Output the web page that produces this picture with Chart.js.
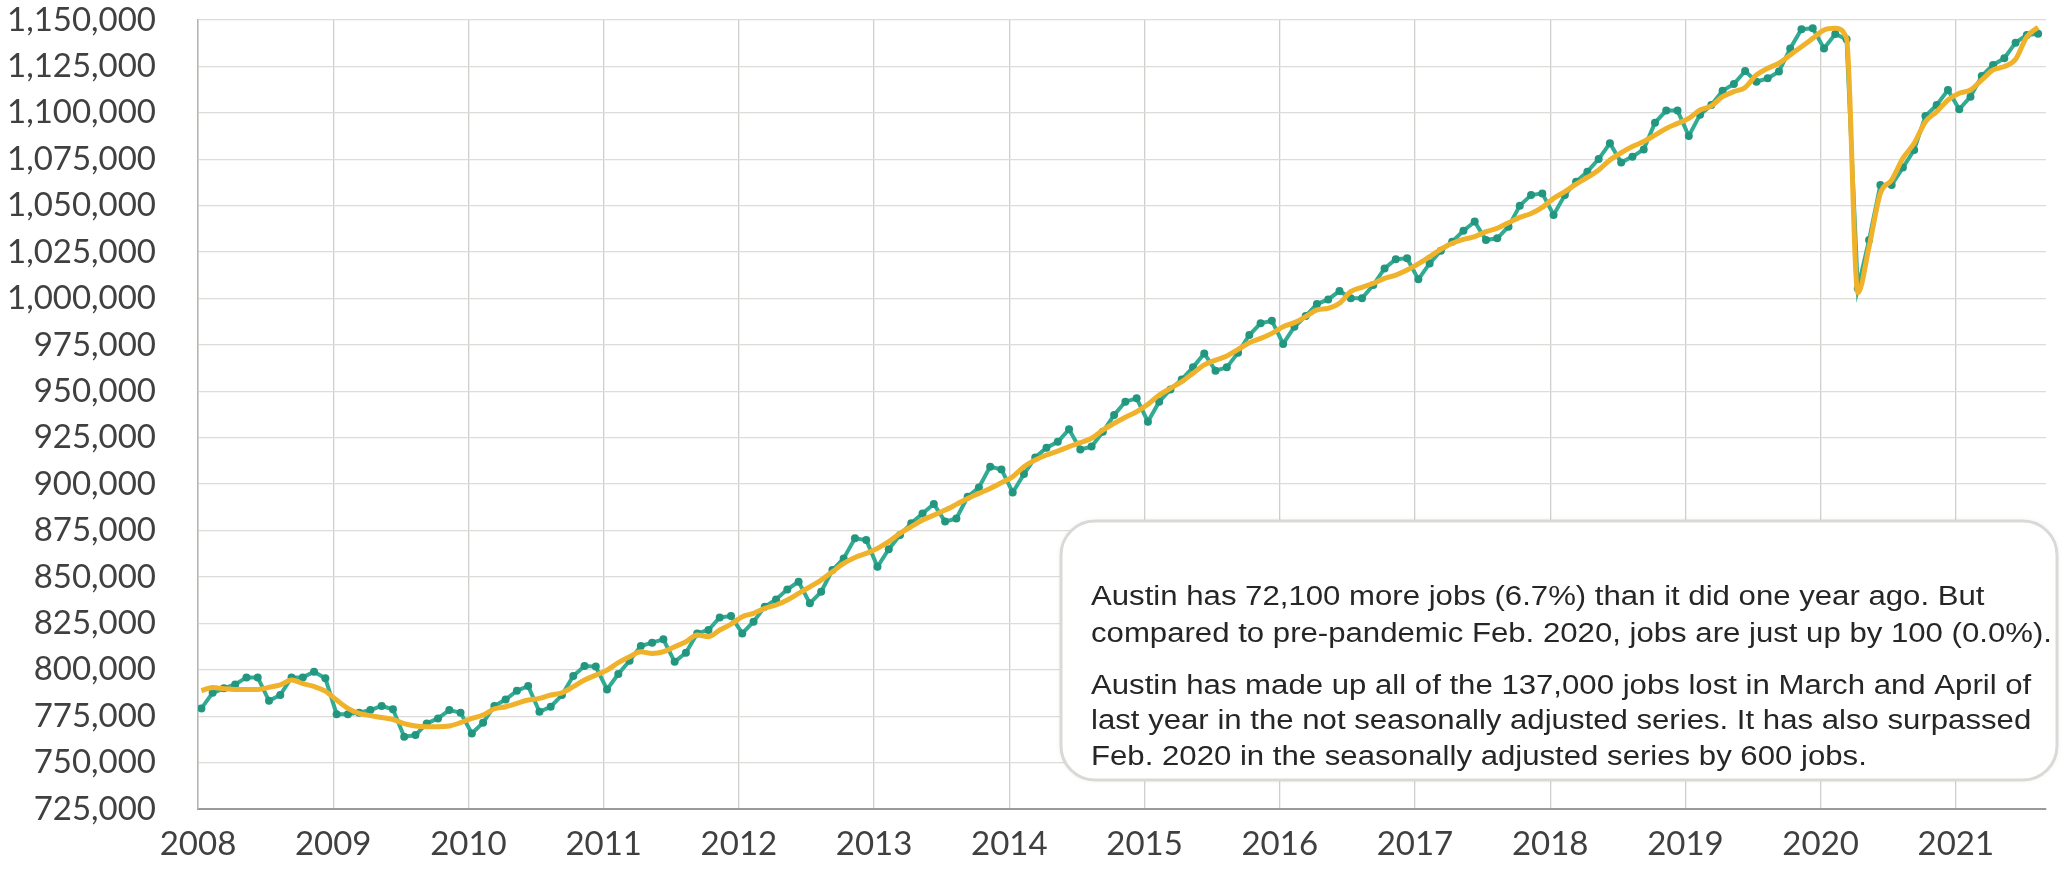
<!DOCTYPE html>
<html>
<head>
<meta charset="utf-8">
<script src="https://cdn.jsdelivr.net/npm/chart.js@4"></script>
<style>
  html, body { margin: 0; padding: 0; background: #ffffff; }
  #wrap { width: 2067px; height: 872px; }
</style>
</head>
<body>
<div id="wrap"><canvas id="jobsChart" width="2067" height="872"></canvas></div>
<script>
// Austin total nonfarm jobs, Jan 2008 - Aug 2021 (monthly)

var years = ['2008', '2009', '2010', '2011', '2012', '2013', '2014',
             '2015', '2016', '2017', '2018', '2019', '2020', '2021'];

// not seasonally adjusted (teal, with markers)
var jobsNSA = [
  779200, 787600, 790000, 792100, 795900, 795900, 783300, 786400, 795900, 795900, 798900, 795400,
  776100, 776100, 776900, 778300, 780500, 778700, 763900, 764800, 771100, 773800, 778300, 776900,
  765700, 771500, 780500, 784000, 788700, 791200, 777400, 780100, 786400, 796600, 802000, 801700,
  789400, 797700, 804900, 812800, 814600, 816400, 804300, 809200, 819600, 821400, 828200, 828900,
  819600, 825900, 834000, 837900, 843300, 847400, 835800, 842000, 853700, 860000, 870800, 869900,
  855500, 864900, 872600, 878900, 884200, 889300, 879800, 881500, 893200, 898200, 909400, 907900,
  895500, 905400, 914400, 919600, 922800, 929500, 918700, 920200, 928200, 937200, 944400, 946200,
  933600, 944400, 951000, 956400, 962900, 970400, 961100, 962900, 970800, 980300, 986600, 988000,
  975500, 984800, 990500, 997000, 999500, 1004000, 1000100, 1000100, 1007200, 1016200, 1021100, 1021600,
  1010300, 1018900, 1025700, 1030600, 1036500, 1041400, 1031500, 1032400, 1038700, 1050000, 1055700, 1056600,
  1045000, 1055700, 1062900, 1068300, 1075100, 1083600, 1073200, 1076400, 1080300, 1094700, 1101200, 1101200,
  1087500, 1099000, 1104200, 1111900, 1115500, 1122500, 1116800, 1118600, 1122200, 1134700, 1145000, 1145500,
  1134700, 1142500, 1139600, 1005400, 1031500, 1061100, 1061100, 1070500, 1080000, 1098300, 1104200, 1112300,
  1101900, 1108700, 1119800, 1125800, 1129400, 1137800, 1141900, 1142600
];

// seasonally adjusted (gold, smooth)
var jobsSA = [
  788700, 790500, 789800, 789400, 789400, 789400, 790500, 791800, 794500, 792500, 791000, 788500,
  783700, 779200, 776500, 775300, 774300, 773200, 771000, 769700, 769300, 769300, 769700, 771500,
  773800, 775600, 779000, 780100, 781900, 783700, 784600, 786400, 787600, 790900, 794500, 797100,
  799800, 803800, 807000, 809700, 808800, 809700, 812400, 815100, 818700, 817800, 821400, 824600,
  828600, 830400, 833100, 834900, 837600, 841100, 844700, 848300, 852800, 857300, 860500, 862700,
  865400, 869000, 873500, 877100, 880700, 883300, 886000, 889100, 892300, 895000, 897700, 900800,
  904000, 909400, 913000, 915700, 917800, 920200, 922300, 924700, 929100, 932700, 936000, 939000,
  943000, 948000, 951600, 955200, 959700, 964200, 966800, 969000, 972600, 976200, 978500, 981200,
  984800, 987000, 990200, 993800, 994700, 997400, 1003700, 1006000, 1008100, 1010800, 1012600, 1015300,
  1018600, 1022500, 1026500, 1029700, 1031800, 1033300, 1036000, 1037800, 1040800, 1043700, 1045800, 1049100,
  1053900, 1057500, 1061600, 1065200, 1069200, 1074600, 1078500, 1081800, 1084500, 1088000, 1091600, 1094300,
  1097000, 1101500, 1103700, 1108700, 1111400, 1113700, 1120400, 1124000, 1126700, 1131200, 1135600, 1140100,
  1144600, 1145500, 1140100, 1003100, 1027900, 1056600, 1063800, 1075500, 1083600, 1095200, 1100600, 1106900,
  1110500, 1112300, 1117700, 1123100, 1124900, 1128800, 1141000, 1146100
];

var yMin = 725000, yMax = 1150000, yStep = 25000;

var noteLines = [
  'Austin has 72,100 more jobs (6.7%) than it did one year ago. But',
  'compared to pre-pandemic Feb. 2020, jobs are just up by 100 (0.0%).',
  '',
  'Austin has made up all of the 137,000 jobs lost in March and April of',
  'last year in the not seasonally adjusted series. It has also surpassed',
  'Feb. 2020 in the seasonally adjusted series by 600 jobs.'
];

var shift = 0.3; // January points sit just right of the year gridline

function toPoints(arr) {
  return arr.map(function (v, i) { return { x: i, y: v }; });
}

var noteBox = {
  id: 'noteBox',
  afterDraw: function (chart) {
    var c = chart.ctx;
    var x = 1061, y = 521, w = 996, h = 259, r = 34;
    c.save();
    c.shadowColor = 'rgba(0,0,0,0.08)';
    c.shadowBlur = 6;
    c.beginPath();
    c.roundRect(x, y, w, h, r);
    c.fillStyle = '#ffffff';
    c.fill();
    c.shadowColor = 'transparent';
    c.lineWidth = 3;
    c.strokeStyle = '#d9d9d6';
    c.stroke();
    c.fillStyle = '#262626';
    c.font = '27px "Liberation Sans", Arial, sans-serif';
    c.textBaseline = 'middle';
    var ys = [598, 635, 0, 687, 722, 758];
    var left = 1091;
    // one horizontal squeeze for every line, taken from the widest one
    var sx = (2052 - left) / c.measureText(noteLines[1]).width;
    noteLines.forEach(function (t, i) {
      if (!t) return;
      c.save();
      c.translate(left, ys[i]);
      c.scale(sx, 1);
      c.fillText(t, 0, 0);
      c.restore();
    });
    c.restore();
  }
};

var ctx = document.getElementById('jobsChart');

var jobsChart = new Chart(ctx, {
  type: 'line',
  data: {
    datasets: [{
      label: 'Seasonally adjusted',
      data: toPoints(jobsSA),
      borderColor: '#efb22a',
      borderWidth: 5,
      pointRadius: 0,
      fill: false,
      cubicInterpolationMode: 'monotone',
      order: 0
    }, {
      label: 'Not seasonally adjusted',
      data: toPoints(jobsNSA),
      borderColor: '#31ab93',
      borderWidth: 4,
      pointRadius: 4,
      pointBackgroundColor: '#22967f',
      pointBorderWidth: 0,
      fill: false,
      lineTension: 0,
      order: 1
    }]
  },
  options: {
    responsive: false,
    animation: false,
    layout: { padding: { top: 20, right: 21, left: 0, bottom: 0 } },
    plugins: {
      legend: { display: false },
      tooltip: { enabled: false }
    },
    scales: {
      x: {
        type: 'linear',
        min: -shift,
        max: jobsNSA.length - 1 + 0.7,
        afterBuildTicks: function (scale) {
          scale.ticks = years.map(function (y, k) { return { value: k * 12 - shift }; });
        },
        afterFit: function (scale) { scale.height = 63; },
        grid: { color: '#cfcfcc', lineWidth: 1.3, drawTicks: false },
        border: { color: '#9a9a9a', width: 2 },
        ticks: {
          padding: 16,
          maxRotation: 0,
          autoSkip: false,
          color: '#404040',
          font: { family: 'Lato', size: 33 },
          callback: function (value) {
            return years[Math.round((value + shift) / 12)];
          }
        }
      },
      y: {
        min: yMin,
        max: yMax,
        afterFit: function (scale) {
          scale.width = 198;
          scale.paddingTop = 0;
          scale.paddingBottom = 0;
        },
        grid: { color: '#dcdcd9', lineWidth: 1.3, drawTicks: false },
        border: { color: '#b5b5b2', width: 1.5 },
        ticks: {
          stepSize: yStep,
          padding: 42,
          color: '#404040',
          font: { family: 'Lato', size: 33 },
          callback: function (v) { return v.toLocaleString('en-US'); }
        }
      }
    }
  },
  plugins: [noteBox]
});
</script>
</body>
</html>
